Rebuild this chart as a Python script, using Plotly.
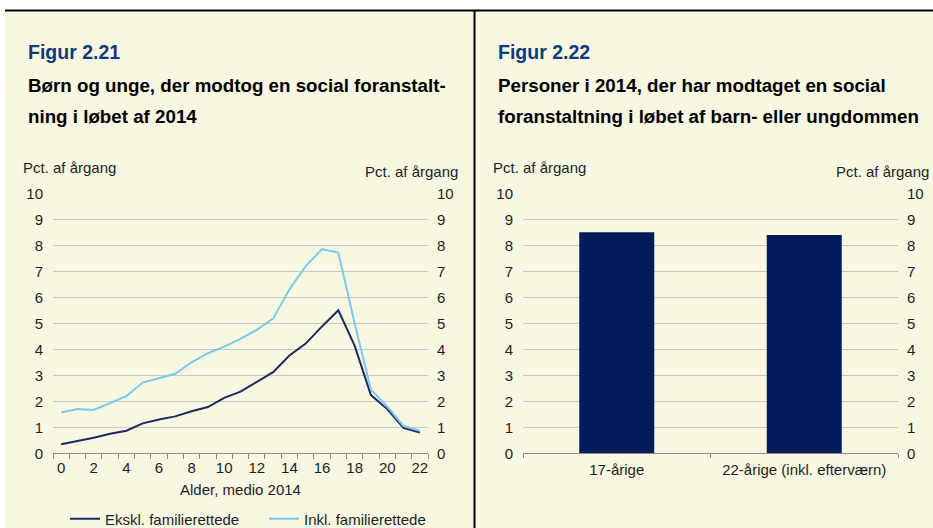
import plotly.graph_objects as go

W, H = 933, 528

ages = list(range(0, 23))
ekskl = [0.35, 0.47, 0.60, 0.75, 0.87, 1.15, 1.30, 1.42, 1.62, 1.78, 2.13, 2.37, 2.75, 3.12,
         3.76, 4.22, 4.88, 5.50, 4.14, 2.24, 1.70, 0.98, 0.80]
inkl = [1.57, 1.70, 1.67, 1.93, 2.20, 2.72, 2.90, 3.06, 3.50, 3.85, 4.10, 4.40, 4.75, 5.18,
        6.30, 7.20, 7.85, 7.72, 5.00, 2.45, 1.80, 1.05, 0.87]
bar_cats = ["17-årige", "22-årige (inkl. efterværn)"]
bar_vals = [8.5, 8.4]
y_ticks = list(range(0, 11))
x_ticks = list(range(0, 23, 2))

CREAM = "#F8F7E1"
GRID = "#CACAC0"
TXT = "#1E1E1E"
FONT = "Liberation Sans, Arial, sans-serif"
FS = 15


def px(x):
    return x / W


def py(y):
    return 1 - y / H


fig = go.Figure()

fig.add_trace(go.Scatter(x=ages, y=ekskl, mode="lines", name="Ekskl. familierettede",
                         line=dict(color="#1C2A5E", width=2), xaxis="x", yaxis="y"))
fig.add_trace(go.Scatter(x=ages, y=inkl, mode="lines", name="Inkl. familierettede",
                         line=dict(color="#7CCAEC", width=2), xaxis="x", yaxis="y"))
fig.add_trace(go.Bar(x=bar_cats, y=bar_vals, marker=dict(color="#041D5A", line=dict(width=0)),
                     showlegend=False, xaxis="x2", yaxis="y3", width=0.4))

common_y = dict(range=[0, 10], tickvals=y_ticks, showline=False, zeroline=False,
                ticks="", tickfont=dict(size=FS, color=TXT, family=FONT),
                automargin=False, fixedrange=True)

left_dom = [px(53), px(428)]
right_dom = [px(523), px(898)]
ydom = [py(453.3), py(193.3)]

fig.update_layout(
    width=W, height=H,
    margin=dict(l=0, r=0, t=0, b=0, pad=0, autoexpand=False),
    paper_bgcolor="white",
    plot_bgcolor="rgba(0,0,0,0)",
    font=dict(family=FONT, color=TXT, size=FS),
    bargap=0.6,
    xaxis=dict(domain=left_dom, range=[-0.5, 22.5], tickmode="array", tickvals=x_ticks,
               ticks="", showline=True, linecolor="#8C8C8C", linewidth=1,
               showgrid=False, zeroline=False, anchor="y", ticklabelstandoff=1,
               tickfont=dict(size=FS, color=TXT, family=FONT),
               minor=dict(tickmode="linear", tick0=-0.5, dtick=1, ticks="outside",
                          ticklen=5, tickcolor="#8C8C8C", tickwidth=1, showgrid=False),
               title=dict(text="Alder, medio 2014", font=dict(size=FS, color=TXT, family=FONT),
                          standoff=9),
               automargin=False, fixedrange=True),
    yaxis=dict(domain=ydom, anchor="x", side="left", showgrid=True, gridcolor=GRID,
               gridwidth=1, ticklabelstandoff=9, **common_y),
    yaxis2=dict(domain=ydom, anchor="x", overlaying="y", side="right", showgrid=False,
                ticklabelstandoff=8, **common_y),
    xaxis2=dict(domain=right_dom, anchor="y3", type="category", tickson="boundaries",
                ticks="outside", ticklen=4, tickcolor="#8C8C8C", showline=True,
                linecolor="#8C8C8C", linewidth=1, showgrid=False, zeroline=False,
                ticklabelstandoff=3,
                tickfont=dict(size=FS, color=TXT, family=FONT),
                automargin=False, fixedrange=True),
    yaxis3=dict(domain=ydom, anchor="x2", side="left", showgrid=True, gridcolor=GRID,
                gridwidth=1, ticklabelstandoff=9, **common_y),
    yaxis4=dict(domain=ydom, anchor="x2", overlaying="y3", side="right", showgrid=False,
                ticklabelstandoff=8, **common_y),
    legend=dict(orientation="h", x=px(65), xanchor="left", y=py(519), yanchor="middle",
                bgcolor="rgba(0,0,0,0)", font=dict(size=FS, color=TXT, family=FONT),
                entrywidth=154, entrywidthmode="pixels", itemwidth=30, tracegroupgap=0),
    showlegend=True,
)

# Invisible traces to activate the right-side axes
fig.add_trace(go.Scatter(x=[None], y=[None], xaxis="x", yaxis="y2", showlegend=False,
                         hoverinfo="skip"))
fig.add_trace(go.Scatter(x=[None], y=[None], xaxis="x2", yaxis="y4", showlegend=False,
                         hoverinfo="skip"))

shapes = [
    dict(type="rect", xref="paper", yref="paper", x0=px(5), x1=1, y0=0, y1=py(10.5),
         fillcolor=CREAM, line=dict(width=0), layer="below"),
    dict(type="line", xref="paper", yref="paper", x0=px(5), x1=1, y0=py(10.5), y1=py(10.5),
         line=dict(color="black", width=2), layer="above"),
    dict(type="line", xref="paper", yref="paper", x0=px(474.5), x1=px(474.5), y0=0, y1=py(10.5),
         line=dict(color="black", width=2), layer="above"),
]
fig.update_layout(shapes=shapes)

annotations = []


def ann(text, x, y, size, color="black", bold=False, xanchor="left"):
    annotations.append(dict(text=f"<b>{text}</b>" if bold else text, x=px(x), y=py(y),
                            xref="paper", yref="paper", xanchor=xanchor, yanchor="middle",
                            showarrow=False, font=dict(size=size, color=color, family=FONT)))


ann("Figur 2.21", 26, 52, 19.5, "#0E3A78", True)
ann("Børn og unge, der modtog en social foranstalt-", 26, 86, 18.75, "black", True)
ann("ning i løbet af 2014", 26, 117, 18.75, "black", True)
ann("Figur 2.22", 496, 52, 19.5, "#0E3A78", True)
ann("Personer i 2014, der har modtaget en social", 496, 86, 18.75, "black", True)
ann("foranstaltning i løbet af barn- eller ungdommen", 496, 117, 18.75, "black", True)

ann("Pct. af årgang", 21, 167, FS, TXT)
ann("Pct. af årgang", 460, 171, FS, TXT, xanchor="right")
ann("Pct. af årgang", 491, 167, FS, TXT)
ann("Pct. af årgang", 931, 171, FS, TXT, xanchor="right")

fig.update_layout(annotations=annotations)

fig.write_html("out.html", config={"displayModeBar": False},
               post_script="document.body.style.margin='0';document.body.style.padding='0';")
